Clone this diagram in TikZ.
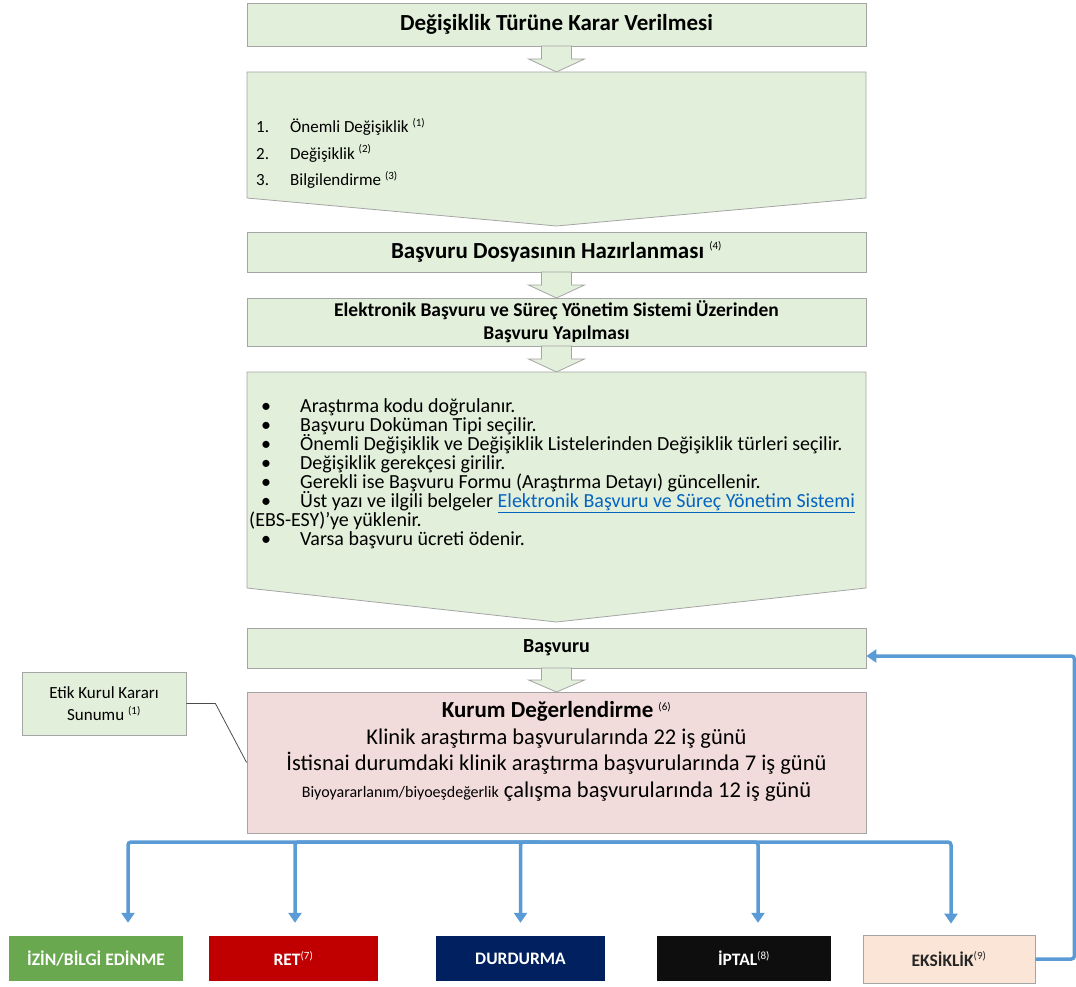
\documentclass[tikz,border=0pt]{standalone}
\usepackage{fontspec}
\setmainfont{Carlito}
\usetikzlibrary{positioning, arrows.meta, calc}

\definecolor{kutu}{RGB}{226,239,218}
\definecolor{cizgi}{RGB}{165,165,165}
\definecolor{pembe}{RGB}{242,220,219}
\definecolor{mavi}{RGB}{91,155,213}
\definecolor{yesil}{RGB}{106,168,79}
\definecolor{kirmizi}{RGB}{192,0,0}
\definecolor{lacivert}{RGB}{0,32,96}
\definecolor{siyah}{RGB}{14,14,14}
\definecolor{seftali}{RGB}{251,229,214}
\definecolor{baglanti}{RGB}{5,99,193}

\newcommand{\ust}[1]{\textsuperscript{\mdseries\fontsize{11}{11}\selectfont(#1)}}
\newcommand{\sikisatir}{\setlength{\lineskiplimit}{-20pt}}
% blok ok: ust, boyun, uc
\newcommand{\blokok}[3]{\draw[okk] (541.5,#1) -- (571.5,#1) -- (571.5,#2) -- (584.5,#2) -- (556.5,#3) -- (528.5,#2) -- (541.5,#2) -- cycle;}

\begin{document}
\begin{tikzpicture}[x=1pt, y=-1pt,
    kutu/.style={draw=cizgi, fill=kutu, line width=0.8pt, minimum width=619pt, inner sep=0pt,
        align=center, font=\fontsize{23}{23}\selectfont\bfseries},
    okk/.style={draw=cizgi, fill=kutu, line width=0.8pt},
    sonuc/.style={minimum height=45pt, inner sep=0pt, text=white, font=\fontsize{17.5}{20}\selectfont\bfseries},
    akis/.style={draw=mavi, line width=3.5pt, rounded corners=3pt, -{Triangle[length=10pt,width=13pt]}}]
    \useasboundingbox (0,0) rectangle (1076,987);

    % ust kutular
    \node[kutu, minimum height=43pt] (karar) at (556.5,24.5) {Değişiklik Türüne Karar Verilmesi};
    \blokok{46}{59}{72}
    \draw[okk] (247,72) coordinate (t1) -- (866,72) -- (866,198) -- (556.5,226) coordinate (u1) -- (247,198) -- cycle;
    \node[anchor=north west, align=left, inner sep=0pt, font=\fontsize{17}{26.5}\selectfont] (turler) at (256,114)
        {\strut\makebox[34pt][l]{1.}Önemli Değişiklik \ust{1}\\
         \makebox[34pt][l]{2.}Değişiklik \ust{2}\\
         \makebox[34pt][l]{3.}Bilgilendirme \ust{3}};

    \node[kutu, minimum height=40pt] (dosya) at (556.5,252) {Başvuru Dosyasının Hazırlanması \ust{4}};
    \blokok{272}{285}{298}
    \node[kutu, minimum height=48pt, font=\fontsize{19.5}{23}\selectfont\bfseries] (ebs) at (556.5,322) {Elektronik Başvuru ve Süreç Yönetim Sistemi Üzerinden\\ Başvuru Yapılması};
    \blokok{346}{359}{372}

    % adimlar
    \draw[okk] (247,372) coordinate (t2) -- (866,372) -- (866,588) -- (556.5,622) coordinate (u2) -- (247,588) -- cycle;
    \node[anchor=north west, align=left, inner sep=0pt, font=\fontsize{20}{19}\selectfont\sikisatir] (adimlar) at (249,398)
        {\strut\hspace*{12pt}\makebox[39pt][l]{\textbullet}Araştırma kodu doğrulanır.\\
         \hspace*{12pt}\makebox[39pt][l]{\textbullet}Başvuru Doküman Tipi seçilir.\\
         \hspace*{12pt}\makebox[39pt][l]{\textbullet}Önemli Değişiklik ve Değişiklik Listelerinden Değişiklik türleri seçilir.\\
         \hspace*{12pt}\makebox[39pt][l]{\textbullet}Değişiklik gerekçesi girilir.\\
         \hspace*{12pt}\makebox[39pt][l]{\textbullet}Gerekli ise Başvuru Formu (Araştırma Detayı) güncellenir.\\
         \hspace*{12pt}\makebox[39pt][l]{\textbullet}Üst yazı ve ilgili belgeler \textcolor{baglanti}{\underline{Elektronik Başvuru ve Süreç Yönetim Sistemi}}\\
         (EBS-ESY)’ye yüklenir.\\
         \hspace*{12pt}\makebox[39pt][l]{\textbullet}Varsa başvuru ücreti ödenir.};

    \node[kutu, minimum height=40pt, font=\fontsize{20}{23}\selectfont\bfseries] (basvuru) at (556.5,648) {Başvuru};
    \blokok{668}{680}{692}
    \node[kutu, fill=pembe, minimum height=141pt] (kurum) at (556.5,762.5) {};
    \node[anchor=north, align=center, inner sep=0pt, font=\fontsize{22.5}{26.5}\selectfont] (sure) at (556.5,699)
        {\strut{\fontsize{23}{26.5}\selectfont\bfseries Kurum Değerlendirme} \ust{6}\\
         Klinik araştırma başvurularında 22 iş günü\\
         İstisnai durumdaki klinik araştırma başvurularında 7 iş günü\\
         {\fontsize{16}{26.5}\selectfont Biyoyararlanım/biyoeşdeğerlik} çalışma başvurularında 12 iş günü};

    \node[draw=cizgi, fill=kutu, line width=0.8pt, minimum width=164pt, minimum height=63pt, align=center,
        font=\fontsize{17}{22}\selectfont] (etik) at (104,703.5) {Etik Kurul Kararı\\ Sunumu \ust{1}};
    \draw[black!70, line width=0.8pt] (etik.east) -- ++(29,0) -- (kurum.west);

    % sonuclar
    \node[sonuc, fill=yesil, minimum width=174pt] (izin) at (96,958.5) {İZİN/BİLGİ EDİNME};
    \node[sonuc, fill=kirmizi, minimum width=169pt] (ret) at (293.5,958.5) {RET\ust{7}};
    \node[sonuc, fill=lacivert, minimum width=169pt] (durdurma) at (520.5,958.5) {DURDURMA};
    \node[sonuc, fill=siyah, minimum width=174pt] (iptal) at (744,958.5) {İPTAL\ust{8}};
    \node[sonuc, fill=seftali, draw=cizgi, line width=0.8pt, text=black!85, minimum width=172pt, minimum height=48pt] (eksik) at (949,959) {EKSİKLİK\ust{9}};

    \coordinate (dal) at (540,842);
    \draw[akis, shorten >=13pt] (dal) -| ([xshift=32pt]izin.north);
    \draw[akis, shorten >=13pt] (dal) -| ([xshift=1.5pt]ret.north);
    \draw[akis, shorten >=13pt] (dal) -| (durdurma.north);
    \draw[akis, shorten >=13pt] (dal) -| ([xshift=14pt]iptal.north);
    \draw[akis, shorten >=11pt] (dal) -| ([xshift=2pt]eksik.north);
    \draw[akis] (eksik.east) -- ++(39,0) |- ([yshift=-8pt]basvuru.east);
\end{tikzpicture}
\end{document}
